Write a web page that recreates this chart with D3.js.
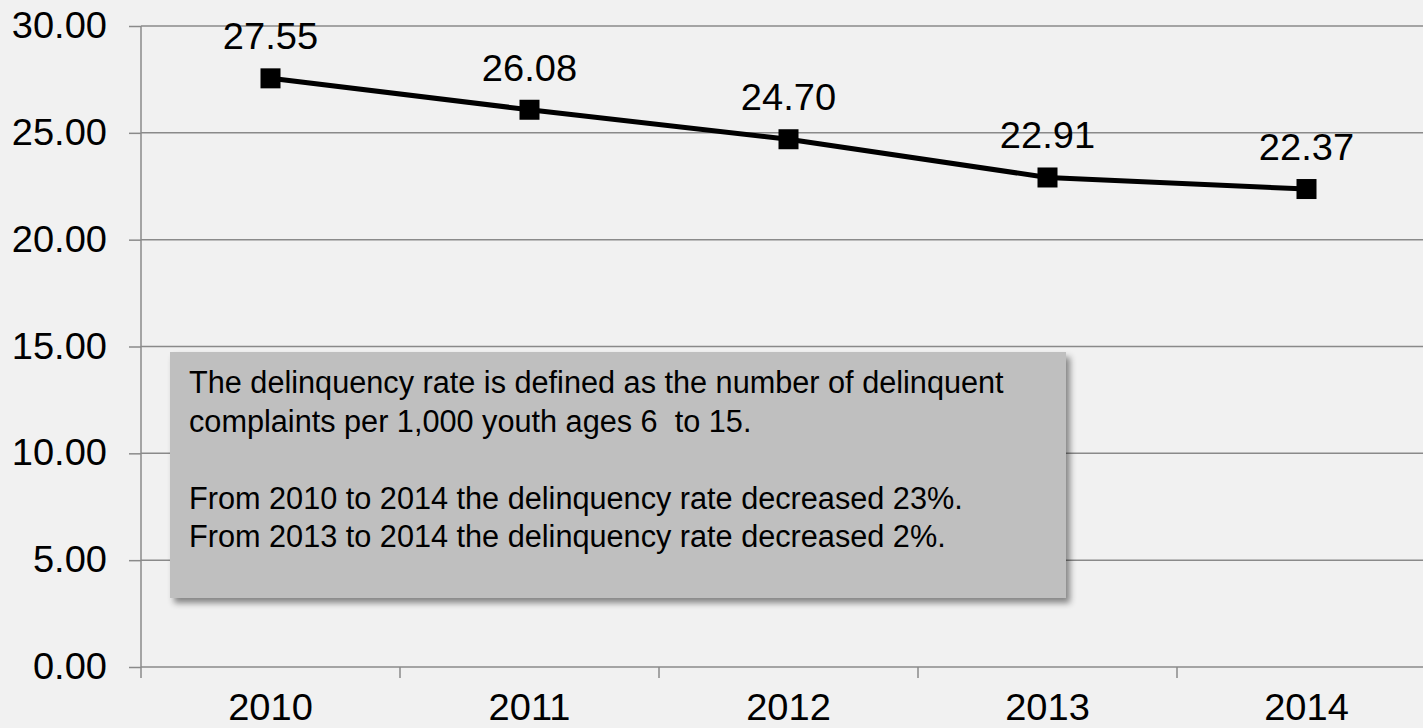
<!DOCTYPE html>
<html>
<head>
<meta charset="utf-8">
<script src="https://cdn.jsdelivr.net/npm/d3@7"></script>
<style>
  html, body { margin: 0; padding: 0; background: #f1f1f1; }
  svg { display: block; }
</style>
</head>
<body>
<svg id="chart" width="1423" height="728"></svg>
<script>
const years = ["2010", "2011", "2012", "2013", "2014"];
const rates = [27.55, 26.08, 24.70, 22.91, 22.37];
const yTicks = [0, 5, 10, 15, 20, 25, 30];
const noteLines = [
  "The delinquency rate is defined as the number of delinquent",
  "complaints per 1,000 youth ages 6  to 15.",
  "",
  "From 2010 to 2014 the delinquency rate decreased 23%.",
  "From 2013 to 2014 the delinquency rate decreased 2%."
];

(function () {
const W = 1423, H = 728;
const mLeft = 141, mTop = 26, mBottom = 667;
const band = 259;
const svg = d3.select("#chart");
const font = "'Liberation Sans', Arial, sans-serif";
const stretch = 1.057;

svg.append("rect").attr("width", W).attr("height", H).attr("fill", "#f1f1f1");

const defs = svg.append("defs");
const f = defs.append("filter").attr("id", "shadow")
  .attr("x", "-5%").attr("y", "-5%").attr("width", "115%").attr("height", "120%");
f.append("feDropShadow").attr("dx", 4).attr("dy", 5).attr("stdDeviation", 3)
  .attr("flood-color", "#000").attr("flood-opacity", 0.45);

const x = d3.scaleBand().domain(years).range([mLeft, mLeft + band * years.length]).padding(0);
const y = d3.scaleLinear().domain([0, 30]).range([mBottom, mTop]);

// gridlines
svg.append("g").selectAll("line").data(yTicks.filter(d => d > 0)).join("line")
  .attr("x1", mLeft).attr("x2", W)
  .attr("y1", d => y(d)).attr("y2", d => y(d))
  .attr("stroke", "#8a8a8a").attr("stroke-width", 1.5);

// y axis
const yAxis = svg.append("g").attr("transform", `translate(${mLeft},0)`)
  .call(d3.axisLeft(y).tickValues(yTicks).tickFormat(d3.format(".2f")).tickSize(12).tickPadding(22));
yAxis.select(".domain").attr("stroke", "#8a8a8a").attr("stroke-width", 1.5)
  .attr("d", `M0,${mTop}V${mBottom + 11}`);
yAxis.selectAll(".tick line").attr("stroke", "#8a8a8a").attr("stroke-width", 1.5);
yAxis.selectAll(".tick text").attr("class", "big").attr("font-family", font).attr("font-size", 36).attr("fill", "#000");

// x axis
const xAxis = svg.append("g").attr("transform", `translate(0,${mBottom})`);
xAxis.append("line").attr("x1", mLeft).attr("x2", W).attr("y1", 0).attr("y2", 0)
  .attr("stroke", "#8a8a8a").attr("stroke-width", 1.5);
xAxis.selectAll("line.tk").data(years.slice(1)).join("line").attr("class", "tk")
  .attr("x1", d => x(d)).attr("x2", d => x(d)).attr("y1", 0).attr("y2", 11)
  .attr("stroke", "#8a8a8a").attr("stroke-width", 1.5);
xAxis.selectAll("text").data(years).join("text").attr("class", "big")
  .attr("x", d => x(d) + x.bandwidth() / 2).attr("y", 53)
  .attr("text-anchor", "middle").attr("font-family", font).attr("font-size", 36)
  .attr("fill", "#000").text(d => d);

// line
const cx = (d, i) => x(years[i]) + x.bandwidth() / 2;
const line = d3.line().x((d, i) => cx(d, i)).y(d => y(d));
svg.append("path").datum(rates).attr("d", line)
  .attr("fill", "none").attr("stroke", "#000").attr("stroke-width", 5).attr("stroke-linejoin", "round");

svg.append("g").selectAll("rect").data(rates).join("rect")
  .attr("x", (d, i) => cx(d, i) - 10).attr("y", d => y(d) - 10)
  .attr("width", 20).attr("height", 20).attr("fill", "#000");

svg.append("g").selectAll("text").data(rates).join("text").attr("class", "big")
  .attr("x", (d, i) => cx(d, i)).attr("y", d => y(d) - 29)
  .attr("text-anchor", "middle").attr("font-family", font).attr("font-size", 36)
  .attr("fill", "#000").text(d => d3.format(".2f")(d));

// widen large labels slightly to match reference glyph widths
svg.selectAll("text.big").each(function () {
  const len = this.getComputedTextLength();
  if (len > 0) d3.select(this).attr("textLength", len * stretch).attr("lengthAdjust", "spacingAndGlyphs");
});

// note box
const box = svg.append("g");
box.append("rect").attr("x", 170).attr("y", 352).attr("width", 896).attr("height", 246)
  .attr("fill", "#bfbfbf").attr("filter", "url(#shadow)");
const t = box.append("text").attr("font-family", font).attr("font-size", 27).attr("fill", "#000")
  .style("white-space", "pre");
noteLines.forEach((ln, i) => {
  t.append("tspan").attr("x", 189).attr("y", 393 + i * 38.5).text(ln);
});
const first = t.select("tspan").node();
const w = first.getComputedTextLength();
if (w > 0) {
  t.attr("font-size", 27 * 815 / w);
}
})();
</script>
</body>
</html>
